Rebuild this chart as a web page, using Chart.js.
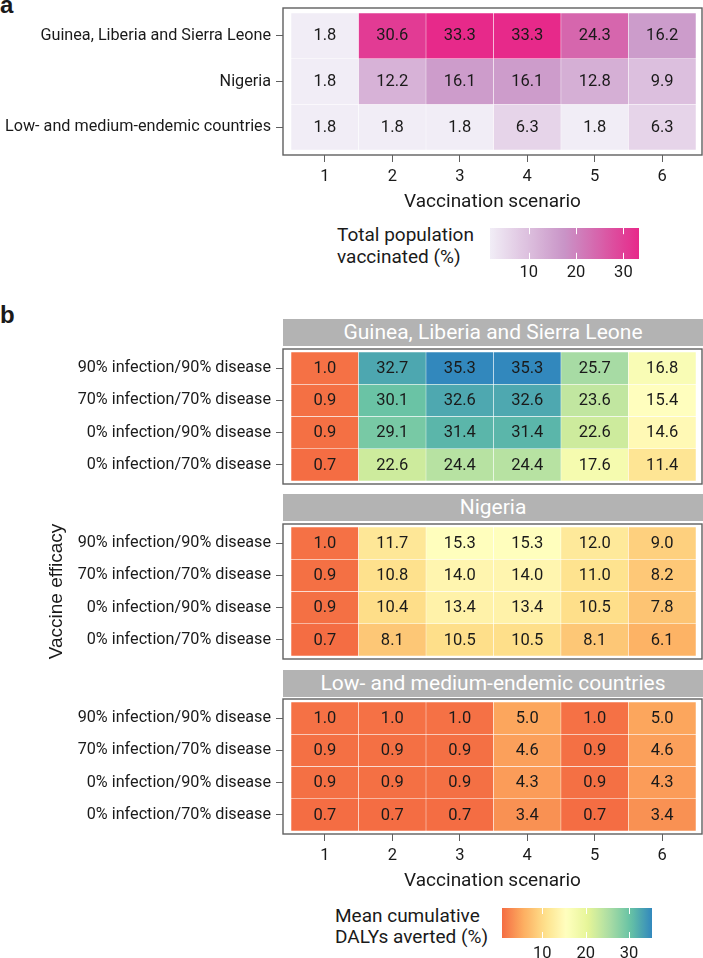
<!DOCTYPE html>
<html>
<head>
<meta charset="utf-8">
<script src="https://cdn.jsdelivr.net/npm/chart.js@4.4.1/dist/chart.umd.min.js"></script>
<style>
  html, body { margin: 0; padding: 0; background: #fff; }
  body { position: relative; width: 703px; height: 958px; overflow: hidden; font-family: Roboto, sans-serif; color: #1a1a1a; }
  canvas { position: absolute; }
  .tag { position: absolute; left: 0; font: bold 24px "Liberation Sans", sans-serif; line-height: 24px; }
  .strip { position: absolute; left: 283px; width: 420px; height: 27px; line-height: 27px; background: #b3b3b3; color: #fff; font-size: 21px; text-align: center; }
  .legend-title { position: absolute; font-size: 19px; white-space: nowrap; }
</style>
</head>
<body>
<div class="tag" style="top:-7px">a</div>
<div class="tag" style="top:303px">b</div>

<canvas id="heatA" width="703" height="220" style="left:0;top:0"></canvas>
<div class="legend-title" style="left:337px;top:224px;line-height:22px">Total population<br>vaccinated (%)</div>
<canvas id="barA" width="180" height="75" style="left:480px;top:218px"></canvas>

<div class="strip" style="top:319px">Guinea, Liberia and Sierra Leone</div>
<canvas id="heatB1" width="703" height="145" style="left:0;top:344px"></canvas>
<div class="strip" style="top:494px">Nigeria</div>
<canvas id="heatB2" width="703" height="145" style="left:0;top:519px"></canvas>
<div class="strip" style="top:670px">Low- and medium-endemic countries</div>
<canvas id="heatB3" width="703" height="205" style="left:0;top:694px"></canvas>

<div class="legend-title" style="left:335px;top:905px;line-height:21px">Mean cumulative<br>DALYs averted (%)</div>
<canvas id="barB" width="180" height="60" style="left:492px;top:898px"></canvas>

<script>
// Data
const scenarios = [1, 2, 3, 4, 5, 6];

const regions = ['Guinea, Liberia and Sierra Leone', 'Nigeria', 'Low- and medium-endemic countries'];
const vaccinatedGLS = [1.8, 30.6, 33.3, 33.3, 24.3, 16.2];
const vaccinatedNigeria = [1.8, 12.2, 16.1, 16.1, 12.8, 9.9];
const vaccinatedLowMed = [1.8, 1.8, 1.8, 6.3, 1.8, 6.3];

const efficacies = ['90% infection/90% disease', '70% infection/70% disease', '0% infection/90% disease', '0% infection/70% disease'];
const dalysGLS = [
    [1.0, 32.7, 35.3, 35.3, 25.7, 16.8],
    [0.9, 30.1, 32.6, 32.6, 23.6, 15.4],
    [0.9, 29.1, 31.4, 31.4, 22.6, 14.6],
    [0.7, 22.6, 24.4, 24.4, 17.6, 11.4]
];
const dalysNigeria = [
    [1.0, 11.7, 15.3, 15.3, 12.0, 9.0],
    [0.9, 10.8, 14.0, 14.0, 11.0, 8.2],
    [0.9, 10.4, 13.4, 13.4, 10.5, 7.8],
    [0.7, 8.1, 10.5, 10.5, 8.1, 6.1]
];
const dalysLowMed = [
    [1.0, 1.0, 1.0, 5.0, 1.0, 5.0],
    [0.9, 0.9, 0.9, 4.6, 0.9, 4.6],
    [0.9, 0.9, 0.9, 4.3, 0.9, 4.3],
    [0.7, 0.7, 0.7, 3.4, 0.7, 3.4]
];

const popRange = [1.8, 33.3];
const dalyRange = [0.7, 35.3];
const legendTicks = [10, 20, 30];

// Palettes
const popPalette = ['#f1edf6', '#c994c7', '#e7298a'];
const dalyPalette = ['#f46d43', '#fdae61', '#fee08b', '#ffffbf', '#e6f598', '#abdda4', '#66c2a5', '#3288bd'];

const textColor = '#1a1a1a';
const lineColor = '#606060';

Chart.defaults.font.family = 'Roboto';
Chart.defaults.color = textColor;

// Fungsi skala warna: nilai -> warna (interpolasi linear RGB)
function colorScale(palette, range) {
    const rgb = palette.map(h => [1, 3, 5].map(k => parseInt(h.substr(k, 2), 16)));
    return function (v) {
        let t = (v - range[0]) / (range[1] - range[0]);
        t = Math.max(0, Math.min(1, t)) * (rgb.length - 1);
        const i = Math.min(Math.floor(t), rgb.length - 2);
        const f = t - i;
        const c = rgb[i].map((a, k) => Math.round(a + (rgb[i + 1][k] - a) * f));
        return 'rgb(' + c.join(',') + ')';
    };
}
const popColor = colorScale(popPalette, popRange);
const dalyColor = colorScale(dalyPalette, dalyRange);

// Teks nilai di tengah setiap sel
const cellText = {
    id: 'cellText',
    afterDatasetsDraw(chart) {
        const ctx = chart.ctx;
        ctx.save();
        ctx.font = '16.5px Roboto';
        ctx.fillStyle = textColor;
        ctx.textAlign = 'center';
        ctx.textBaseline = 'middle';
        chart.data.datasets.forEach((ds, i) => {
            chart.getDatasetMeta(i).data.forEach((bar, j) => {
                ctx.fillText(ds.values[j].toFixed(1), bar.x, (bar.y + bar.base) / 2 + 0.5);
            });
        });
        ctx.restore();
    }
};

// Bingkai panel
const frame = {
    id: 'frame',
    afterDatasetsDraw(chart) {
        const { ctx, chartArea: a } = chart;
        ctx.save();
        ctx.strokeStyle = lineColor;
        ctx.lineWidth = 1.4;
        ctx.strokeRect(a.left, a.top, a.right - a.left, a.bottom - a.top);
        ctx.restore();
    }
};

// Garis putih kecil di colorbar
const barTicks = {
    id: 'barTicks',
    afterDatasetsDraw(chart) {
        const { ctx, chartArea: a } = chart;
        const sx = chart.scales.x;
        const h = (a.bottom - a.top) * 0.2;
        ctx.save();
        ctx.strokeStyle = '#ffffff';
        ctx.lineWidth = 1;
        legendTicks.forEach(v => {
            const x = Math.round(sx.getPixelForValue(v)) + 0.5;
            ctx.beginPath();
            ctx.moveTo(x, a.top); ctx.lineTo(x, a.top + h);
            ctx.moveTo(x, a.bottom - h); ctx.lineTo(x, a.bottom);
            ctx.stroke();
        });
        ctx.restore();
    }
};

const tickGrid = { display: true, offset: false, drawOnChartArea: false, drawTicks: true, tickLength: 7, color: lineColor, lineWidth: 1 };

// Label tidak menambah ruang di luar area chart
function noPadding(s) {
    s.paddingTop = 0; s.paddingBottom = 0; s.paddingLeft = 0; s.paddingRight = 0;
}

function heatmap(id, rowLabels, rows, colorOf, opt) {
    const datasets = rows.map((vals, i) => ({
        data: scenarios.map(s => ({ x: s, y: [i, i + 1] })),
        values: vals,
        backgroundColor: vals.map(colorOf),
        borderColor: '#ffffff',
        borderWidth: 0.5,
        borderSkipped: false,
        barPercentage: 1,
        categoryPercentage: 1,
        grouped: false
    }));
    return new Chart(document.getElementById(id), {
        type: 'bar',
        data: { datasets },
        options: {
            responsive: false,
            animation: false,
            events: [],
            layout: { padding: { top: opt.top, right: 1, bottom: opt.bottom, left: 0 } },
            plugins: { legend: { display: false }, tooltip: { enabled: false } },
            scales: {
                x: {
                    type: 'linear', bounds: 'data', offset: false, min: 0.38, max: 6.59,
                    display: opt.showX,
                    afterBuildTicks: s => { s.ticks = scenarios.map(v => ({ value: v })); },
                    afterFit: s => { noPadding(s); if (opt.showX) s.height = 65; },
                    grid: tickGrid,
                    border: { display: false },
                    ticks: { font: { size: 16.5 }, color: textColor, padding: 4.5, callback: v => String(v) },
                    title: { display: true, text: 'Vaccination scenario', font: { size: 19 }, color: textColor, padding: { top: 0, bottom: 6 } }
                },
                y: {
                    type: 'linear', bounds: 'data', offset: false, reverse: true,
                    min: -opt.pad, max: rows.length + opt.pad,
                    afterBuildTicks: s => { s.ticks = rowLabels.map((_, i) => ({ value: i + 0.5 })); },
                    afterFit: s => { noPadding(s); s.width = 283; },
                    grid: tickGrid,
                    border: { display: false },
                    ticks: { autoSkip: false, font: { size: 16.2 }, color: textColor, padding: 5, callback: v => rowLabels[Math.floor(v)] },
                    title: opt.yTitle
                        ? { display: true, text: opt.yTitle, font: { family: 'Liberation Sans', size: 19 }, color: textColor, padding: { top: 45, bottom: 0 } }
                        : { display: false }
                }
            }
        },
        plugins: [cellText, frame]
    });
}

function colorbar(id, range, colorOf, pad, axisHeight) {
    return new Chart(document.getElementById(id), {
        type: 'bar',
        data: {
            labels: [''],
            datasets: [{
                data: [range],
                backgroundColor: c => {
                    const a = c.chart.chartArea;
                    if (!a) return null;
                    const g = c.chart.ctx.createLinearGradient(a.left, 0, a.right, 0);
                    for (let k = 0; k <= 40; k++) {
                        g.addColorStop(k / 40, colorOf(range[0] + (range[1] - range[0]) * k / 40));
                    }
                    return g;
                },
                borderWidth: 0,
                barPercentage: 1,
                categoryPercentage: 1
            }]
        },
        options: {
            indexAxis: 'y',
            responsive: false,
            animation: false,
            events: [],
            layout: { padding: pad },
            plugins: { legend: { display: false }, tooltip: { enabled: false } },
            scales: {
                x: {
                    type: 'linear', bounds: 'data', min: range[0], max: range[1],
                    afterBuildTicks: s => { s.ticks = legendTicks.map(v => ({ value: v })); },
                    afterFit: s => { noPadding(s); s.height = axisHeight; },
                    grid: { display: false, drawTicks: false, tickLength: 0 },
                    border: { display: false },
                    ticks: { font: { size: 16.5 }, color: textColor, padding: pad.tickPad }
                },
                y: { display: false }
            }
        },
        plugins: [barTicks]
    });
}

document.addEventListener('DOMContentLoaded', function () {
    heatmap('heatA', regions, [vaccinatedGLS, vaccinatedNigeria, vaccinatedLowMed], popColor,
        { top: 8, bottom: 0, pad: 0.11, showX: true });
    heatmap('heatB1', efficacies, dalysGLS, dalyColor, { top: 5, bottom: 5, pad: 0.093, showX: false });
    heatmap('heatB2', efficacies, dalysNigeria, dalyColor, { top: 5, bottom: 5, pad: 0.093, showX: false, yTitle: 'Vaccine efficacy' });
    heatmap('heatB3', efficacies, dalysLowMed, dalyColor, { top: 5, bottom: 0, pad: 0.093, showX: true });

    colorbar('barA', popRange, popColor, { left: 10, right: 21, top: 10, bottom: 0, tickPad: 4 }, 34);
    colorbar('barB', dalyRange, dalyColor, { left: 10, right: 20, top: 10, bottom: 0, tickPad: 5.5 }, 20);
});
</script>
</body>
</html>
